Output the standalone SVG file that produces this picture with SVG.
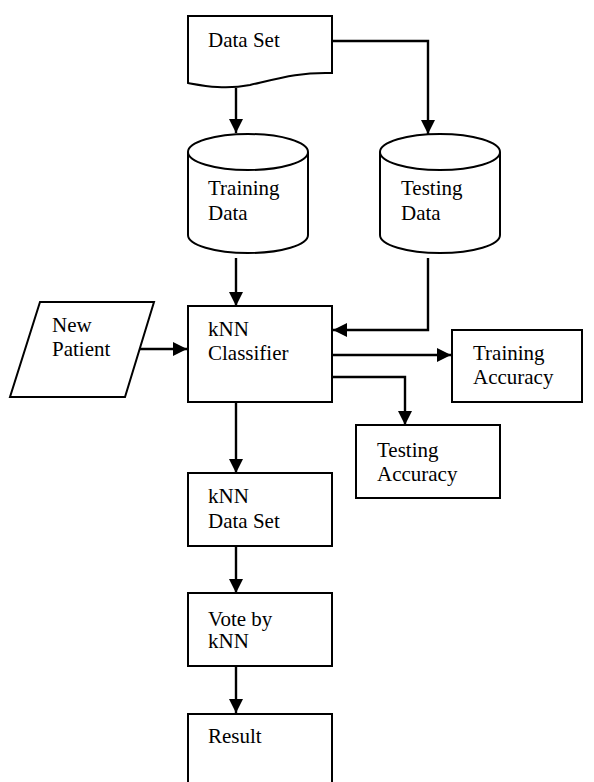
<svg xmlns="http://www.w3.org/2000/svg" width="594" height="782" viewBox="0 0 594 782">
  <defs>
    <marker id="arrow" viewBox="0 0 14 14" refX="14" refY="7" markerWidth="14" markerHeight="14" markerUnits="userSpaceOnUse" orient="auto">
      <path d="M0,0 L14,7 L0,14 Z" fill="#000"/>
    </marker>
    <style>
      .shape { fill: #fff; stroke: #000; stroke-width: 2; }
      .link { fill: none; stroke: #000; stroke-width: 2.4; marker-end: url(#arrow); }
      text { font-family: "Liberation Serif", "Times New Roman", serif; font-size: 21px; fill: #000; }
    </style>
  </defs>
  <rect width="594" height="782" fill="#fff"/>

  <!-- flow connectors -->
  <g id="connectors">
    <path class="link" d="M236,88 V133"/>
    <path class="link" d="M332,41 H428 V134"/>
    <path class="link" d="M236,258 V306"/>
    <path class="link" d="M428,258 V330 H333"/>
    <path class="link" d="M140,349 H187"/>
    <path class="link" d="M332,355 H451"/>
    <path class="link" d="M332,377 H405 V425"/>
    <path class="link" d="M236,402 V473"/>
    <path class="link" d="M236,546 V593"/>
    <path class="link" d="M236,666 V713"/>
  </g>

  <!-- document node -->
  <g id="data-set">
    <path class="shape" d="M188,16 H332 V73 C300,72 280,78 250,85 C225,90 205,86 188,83 Z"/>
    <text x="208" y="47">Data Set</text>
  </g>

  <!-- stored data cylinders -->
  <g id="training-data">
    <path class="shape" d="M188,152 V235 A60,18 0 0 0 308,235 V152"/>
    <ellipse class="shape" cx="248" cy="152" rx="60" ry="18"/>
    <text x="208" y="195">Training</text>
    <text x="208" y="220">Data</text>
  </g>
  <g id="testing-data">
    <path class="shape" d="M380,152 V235 A60,18 0 0 0 500,235 V152"/>
    <ellipse class="shape" cx="440" cy="152" rx="60" ry="18"/>
    <text x="401" y="195">Testing</text>
    <text x="401" y="220">Data</text>
  </g>

  <!-- input node -->
  <g id="new-patient">
    <path class="shape" d="M40,302 H154 L125,397 H10 Z"/>
    <text x="52" y="332">New</text>
    <text x="52" y="356">Patient</text>
  </g>

  <!-- process nodes -->
  <g id="knn-classifier">
    <rect class="shape" x="188" y="306" width="144" height="96"/>
    <text x="208" y="336">kNN</text>
    <text x="208" y="360">Classifier</text>
  </g>
  <g id="training-accuracy">
    <rect class="shape" x="452" y="330" width="130" height="72"/>
    <text x="473" y="360">Training</text>
    <text x="473" y="384">Accuracy</text>
  </g>
  <g id="testing-accuracy">
    <rect class="shape" x="356" y="425" width="144" height="73"/>
    <text x="377" y="457">Testing</text>
    <text x="377" y="481">Accuracy</text>
  </g>
  <g id="knn-data-set">
    <rect class="shape" x="188" y="473" width="144" height="73"/>
    <text x="208" y="503">kNN</text>
    <text x="208" y="528">Data Set</text>
  </g>
  <g id="vote-by-knn">
    <rect class="shape" x="188" y="593" width="144" height="73"/>
    <text x="208" y="626">Vote by</text>
    <text x="208" y="648">kNN</text>
  </g>
  <g id="result">
    <rect class="shape" x="188" y="714" width="144" height="80"/>
    <text x="208" y="743">Result</text>
  </g>
</svg>
